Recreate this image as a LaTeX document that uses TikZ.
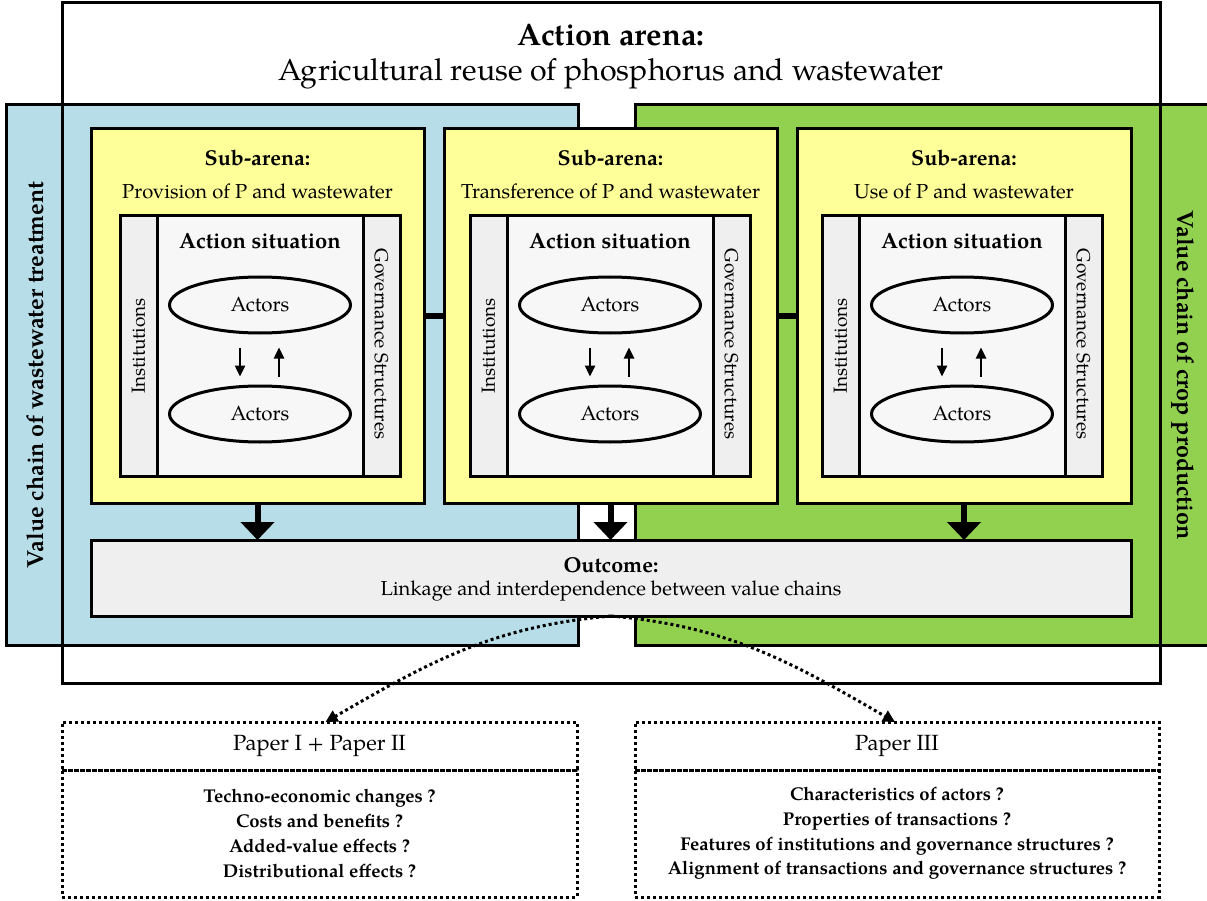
\documentclass[tikz,border=0pt]{standalone}
\usepackage{fontspec}
\setmainfont{TeX Gyre Pagella}
\usetikzlibrary{calc,arrows.meta,shapes.geometric}
\definecolor{chainblue}{HTML}{B7DDE8}
\definecolor{chaingreen}{HTML}{92D050}
\definecolor{subyellow}{HTML}{FFFF99}
\definecolor{situgray}{HTML}{F7F7F7}
\definecolor{stripgray}{HTML}{EFEFEF}
\begin{document}
\begin{tikzpicture}[x=1pt,y=-1pt,
  frame/.style={rectangle, draw=black, line width=3pt, inner sep=0pt, outer sep=0pt, anchor=north west},
  dotline/.style={line width=3pt, dash pattern=on 3pt off 3pt},
  paperbox/.style={rectangle, draw=black, dotline, inner sep=0pt, outer sep=0pt, anchor=north west, align=center},
  bigarrow/.style={line width=6pt, -{Triangle[length=18pt,width=33pt]}},
  smallarrow/.style={line width=2.4pt, -{Triangle[length=11pt,width=10pt]}},
  linkbar/.style={line width=6pt},
  actor/.style={ellipse, draw=black, line width=3pt, fill=situgray, minimum width=181pt, minimum height=56pt, inner sep=0pt, font=\fontsize{20.5}{22}\selectfont},
  label/.style={inner sep=0pt, outer sep=0pt},
  bigbold/.style={label, font=\fontsize{31}{34}\selectfont\bfseries},
  bigreg/.style={label, font=\fontsize{30.3}{34}\selectfont},
  midbold/.style={label, font=\fontsize{21.5}{24}\selectfont\bfseries},
  sitbold/.style={label, font=\fontsize{22}{24}\selectfont\bfseries},
  midreg/.style={label, font=\fontsize{20.2}{23}\selectfont},
  stripfont/.style={label, font=\fontsize{19}{21}\selectfont},
  chainfont/.style={label, font=\fontsize{23.3}{27}\selectfont\bfseries},
  paperfont/.style={font=\fontsize{22}{26}\selectfont},
  qfont/.style={font=\fontsize{18.5}{24.7}\selectfont\bfseries}
]
\useasboundingbox (0,0) rectangle (1207,901);

% value chains
\node[frame, fill=chainblue, minimum width=572pt, minimum height=540pt] (blue) at (6,105) {};
\node[frame, fill=chaingreen, minimum width=575pt, minimum height=540pt] (green) at (635,105) {};
\node[chainfont, rotate=90] (bluelabel) at ($(blue.west)+(29,0)$) {Value chain of wastewater treatment};
\node[chainfont, rotate=-90] (greenlabel) at ($(green.east)+(-27,0)$) {Value chain of crop production};

% action arena frame
\node[frame, minimum width=1098pt, minimum height=680pt] (arena) at (62,3) {};
\node[bigbold] (arenatitle) at ($(arena.north)+(0,32)$) {Action arena:};
\node[bigreg] (arenasub) at ($(arena.north)+(0,71)$) {Agricultural reuse of phosphorus and wastewater};

% outcome
\node[frame, fill=stripgray, minimum width=1040pt, minimum height=76pt] (out) at (91,540) {};
\node[midbold] (outtitle) at ($(out.north)+(0,25)$) {Outcome:};
\node[midreg] (outsub) at ($(out.north)+(0,51)$) {Linkage and interdependence between value chains};

% sub-arenas
\foreach \i/\xl/\xr/\il/\sub in {
  1/91/424/120/{Provision of P and wastewater},
  2/444/777/470/{Transference of P and wastewater},
  3/797/1131/822/{Use of P and wastewater}}{
  \pgfmathsetmacro\yw{\xr-\xl}
  \node[frame, fill=subyellow, minimum width=\yw pt, minimum height=374pt] (y\i) at (\xl,129) {};
  \node[midbold] (subt\i) at ($(y\i.north)+(0,29)$) {Sub-arena:};
  \node[midreg] (subs\i) at ($(y\i.north)+(0,62)$) {\sub};
  \node[frame, fill=situgray, minimum width=280pt, minimum height=260pt] (s\i) at (\il,216) {};
  \node[frame, fill=stripgray, minimum width=37pt, minimum height=260pt] (inst\i) at (\il,216) {};
  \node[frame, fill=stripgray, minimum width=37pt, minimum height=260pt, anchor=north east] (gov\i) at (\il+280,216) {};
  \node[stripfont, rotate=90] (instl\i) at (inst\i.center) {Institutions};
  \node[stripfont, rotate=-90] (govl\i) at ($(gov\i.center)+(0,-2)$) {Governance Structures};
  \node[sitbold] (sitl\i) at ($(inst\i.north east)!0.5!(gov\i.north west)+(0,25)$) {Action situation};
  \node[actor] (a\i) at ($(inst\i.north east)!0.5!(gov\i.north west)+(0,89)$) {Actors};
  \node[actor] (b\i) at ($(inst\i.north east)!0.5!(gov\i.north west)+(0,198)$) {Actors};
  \draw[smallarrow] ($(a\i.south)+(-20,13)$) -- ($(b\i.north)+(-20,-8)$);
  \draw[smallarrow] ($(b\i.north)+(19,-8)$) -- ($(a\i.south)+(19,13)$);
  \draw[bigarrow] (y\i.south) -- (y\i.south |- out.north);
}
\draw[linkbar] (y1.east) -- (y2.west);
\draw[linkbar] (y2.east) -- (y3.west);

% papers
\node[paperbox, minimum width=515pt, minimum height=48pt, paperfont] (p1) at (62,722) {Paper I + Paper II};
\node[paperbox, minimum width=515pt, minimum height=127pt, qfont] (q1) at (62,770)
  {Techno-economic changes ?\\ Costs and benefits ?\\ Added-value effects ?\\ Distributional effects ?};
\node[paperbox, minimum width=524pt, minimum height=48pt, paperfont] (p2) at (635,722) {Paper III};
\node[paperbox, minimum width=524pt, minimum height=127pt, qfont] (q2) at (635,770)
  {Characteristics of actors ?\\ Properties of transactions ?\\ Features of institutions and governance structures ?\\ Alignment of transactions and governance structures ?};

% links from the outcome to the papers
\draw[dotline, -{Triangle[length=12pt,width=12pt]}] (out.south) to[out=185,in=30] ($(p1.north)+(6,0)$);
\draw[dotline, -{Triangle[length=12pt,width=12pt]}] (out.south) to[out=-5,in=150] ($(p2.north)+(-2,0)$);
\end{tikzpicture}
\end{document}
